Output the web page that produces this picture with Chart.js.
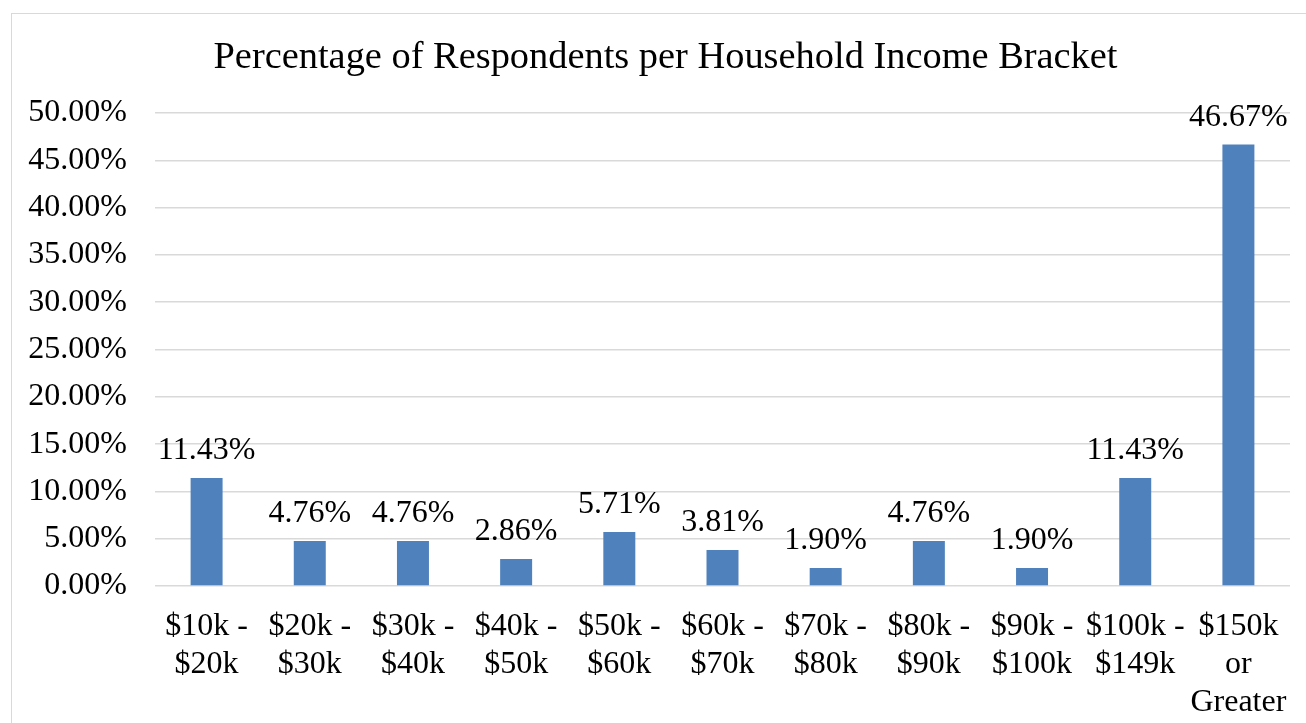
<!DOCTYPE html>
<html lang="en">
<head>
    <meta charset="UTF-8">
    <title>Percentage of Respondents per Household Income Bracket</title>
    <script src="https://cdn.jsdelivr.net/npm/chart.js"></script>
    <style>
        body { margin: 0; background: #fff; }
        #box { position: absolute; left: 11px; top: 13px; width: 1300px; height: 720px; border: 1px solid #d9d9d9; background: #fff; }
    </style>
</head>
<body>
    <div id="box"><canvas id="incomeChart"></canvas></div>

    <script>
        const brackets = [
            ["$10k -", "$20k"], ["$20k -", "$30k"], ["$30k -", "$40k"], ["$40k -", "$50k"],
            ["$50k -", "$60k"], ["$60k -", "$70k"], ["$70k -", "$80k"], ["$80k -", "$90k"],
            ["$90k -", "$100k"], ["$100k -", "$149k"], ["$150k", "or", "Greater"]
        ];
        const percents = [11.43, 4.76, 4.76, 2.86, 5.71, 3.81, 1.90, 4.76, 1.90, 11.43, 46.67];
        const yTicks = { min: 0, max: 50, step: 5 };

        const serif = "'Liberation Serif', 'Times New Roman', serif";

        // draws the value above each bar
        const valueLabels = {
            id: "valueLabels",
            afterLayout(chart) {
                // title is centred over the plot area rather than the whole canvas
                if (chart.titleBlock) chart.titleBlock.left = 29;
            },
            afterDatasetsDraw(chart) {
                const ctx = chart.ctx;
                const meta = chart.getDatasetMeta(0);
                ctx.save();
                ctx.font = "32px " + serif;
                ctx.fillStyle = "#000";
                ctx.textAlign = "center";
                ctx.textBaseline = "alphabetic";
                meta.data.forEach((bar, i) => {
                    ctx.fillText(percents[i].toFixed(2) + "%", bar.x, bar.y - 19);
                });
                ctx.restore();
            }
        };

        new Chart(document.getElementById("incomeChart"), {
            type: "bar",
            data: {
                labels: brackets,
                datasets: [{
                    data: percents,
                    backgroundColor: "#4F81BD",
                    categoryPercentage: 1,
                    barPercentage: 0.31
                }]
            },
            options: {
                responsive: true,
                maintainAspectRatio: false,
                animation: false,
                layout: { padding: { left: 0, right: 22, top: 12, bottom: 0 } },
                plugins: {
                    legend: { display: false },
                    tooltip: { enabled: false },
                    title: {
                        display: true,
                        text: "Percentage of Respondents per Household Income Bracket",
                        color: "#000",
                        font: { family: serif, size: 38.4, weight: "normal" },
                        padding: { top: 9, bottom: 32 }
                    }
                },
                scales: {
                    x: {
                        grid: { display: false },
                        border: { display: false },
                        ticks: {
                            color: "#000",
                            font: { family: serif, size: 32, lineHeight: 1.2 },
                            maxRotation: 0,
                            autoSkip: false,
                            padding: 13
                        },
                        afterFit(scale) { scale.height = 148; }
                    },
                    y: {
                        min: yTicks.min,
                        max: yTicks.max,
                        grid: { color: "#d9d9d9", lineWidth: 1.5, drawTicks: false },
                        border: { display: false },
                        ticks: {
                            stepSize: yTicks.step,
                            color: "#000",
                            font: { family: serif, size: 32 },
                            padding: 28,
                            callback: v => v.toFixed(2) + "%"
                        },
                        afterFit(scale) { scale.width = 143; }
                    }
                }
            },
            plugins: [valueLabels]
        });
    </script>
</body>
</html>
